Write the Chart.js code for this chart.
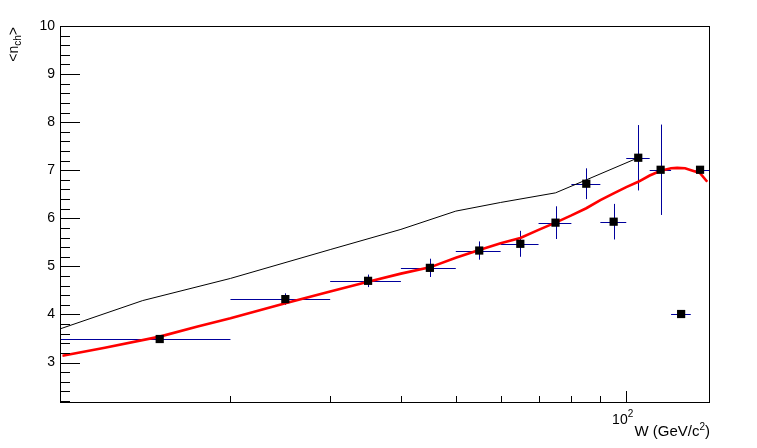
<!DOCTYPE html>
<html>
<head>
<meta charset="utf-8">
<script src="https://cdn.jsdelivr.net/npm/chart.js@4.4.1/dist/chart.umd.min.js"></script>
<style>
  html, body { margin: 0; padding: 0; background: #fff; }
  #wrap { width: 757px; height: 448px; }
</style>
</head>
<body>
<div id="wrap"><canvas id="nch" width="757" height="448"></canvas></div>
<script>
// measured <n_ch> vs W, bins of 10 GeV
const ptW    = [15, 25, 35, 45, 55, 65, 75, 85, 95, 105, 115, 125, 135];
const ptWLo  = [5, 5, 5, 5, 5, 5, 5, 5, 5, 5, 5, 5, 2.5];
const ptWHi  = [5, 5, 5, 5, 5, 5, 5, 5, 5, 5, 5, 5, 5];
const ptN    = [3.49, 4.32, 4.70, 4.97, 5.33, 5.47, 5.91, 6.72, 5.93, 7.26, 7.01, 4.01, 7.01];
const ptNErr = [0.06, 0.12, 0.13, 0.19, 0.19, 0.27, 0.34, 0.32, 0.37, 0.68, 0.94, 0, 0];

// thin black model line
const modelW = [10, 14, 20, 30, 40, 50, 60, 75, 85, 105];
const modelN = [3.70, 4.29, 4.75, 5.35, 5.77, 6.15, 6.33, 6.53, 6.80, 7.26];

// red fit curve
const fitW = [10.1, 12, 15, 17.5, 20, 25, 30, 35, 40, 45, 50, 55, 60, 65, 70,
              75, 80, 85, 90, 95, 100, 105, 110, 115, 120, 123, 127, 131, 135, 139];
const fitN = [3.14, 3.31, 3.54, 3.75, 3.92, 4.235, 4.48, 4.68, 4.85, 4.98, 5.18, 5.34, 5.48, 5.59, 5.76,
              5.91, 6.06, 6.21, 6.38, 6.52, 6.65, 6.76, 6.89, 6.99, 7.04, 7.05, 7.04, 6.99, 6.94, 6.76];

// axes
const yMajor = [3, 4, 5, 6, 7, 8, 9, 10];
const xMinor = [20, 30, 40, 50, 60, 70, 80, 90];
const xMajor = [100];
const xLabels = [['10', '2']];   // base, exponent

const FONT = "'Liberation Sans', Arial, sans-serif";
const ERR_COLOR = '#00009c';

function toXY(xs, ys) {
  return xs.map((v, i) => ({ x: v, y: ys[i] }));
}

// sub/superscript text helper: parts = [[text, size, dy], ...]
function drawParts(ctx, parts, x, y, align) {
  let total = 0;
  parts.forEach(p => { ctx.font = p[1] + 'px ' + FONT; total += ctx.measureText(p[0]).width; });
  let cx = align === 'right' ? x - total : x;
  parts.forEach(p => {
    ctx.font = p[1] + 'px ' + FONT;
    ctx.fillText(p[0], cx, y + p[2]);
    cx += ctx.measureText(p[0]).width;
  });
}

const rootFrame = {
  id: 'rootFrame',
  beforeDatasetsDraw(chart) {
    const { ctx, chartArea: a, scales: { x, y } } = chart;
    ctx.save();
    ctx.beginPath();
    ctx.rect(a.left, a.top, a.right - a.left, a.bottom - a.top);
    ctx.clip();
    ctx.strokeStyle = ERR_COLOR;
    ctx.lineWidth = 1;
    ctx.beginPath();
    for (let i = 0; i < ptW.length; i++) {
      const px = Math.round(x.getPixelForValue(ptW[i])) + 0.5;
      const py = Math.round(y.getPixelForValue(ptN[i])) + 0.5;
      ctx.moveTo(x.getPixelForValue(ptW[i] - ptWLo[i]), py);
      ctx.lineTo(x.getPixelForValue(ptW[i] + ptWHi[i]), py);
      if (ptNErr[i] > 0) {
        ctx.moveTo(px, y.getPixelForValue(ptN[i] - ptNErr[i]));
        ctx.lineTo(px, y.getPixelForValue(ptN[i] + ptNErr[i]));
      }
    }
    ctx.stroke();
    ctx.restore();
  },
  afterDraw(chart) {
    const { ctx, chartArea: a, scales: { x, y } } = chart;
    ctx.save();
    ctx.strokeStyle = '#000';
    ctx.lineWidth = 1;
    ctx.strokeRect(a.left + 0.5, a.top + 0.5, a.right - a.left, a.bottom - a.top);

    // ticks inside the frame, ROOT style
    ctx.beginPath();
    for (let k = 0; k <= 39; k++) {
      const v = 2.2 + k * 0.2;
      if (v < y.min || v > y.max + 1e-6) continue;
      const py = Math.round(y.getPixelForValue(v)) + 0.5;
      const major = Math.abs(v - Math.round(v)) < 1e-6;
      ctx.moveTo(a.left, py);
      ctx.lineTo(a.left + (major ? 20 : 10), py);
    }
    xMinor.forEach(v => {
      const px = Math.round(x.getPixelForValue(v)) + 0.5;
      ctx.moveTo(px, a.bottom);
      ctx.lineTo(px, a.bottom - 6);
    });
    xMajor.forEach(v => {
      const px = Math.round(x.getPixelForValue(v)) + 0.5;
      ctx.moveTo(px, a.bottom);
      ctx.lineTo(px, a.bottom - 11);
    });
    ctx.stroke();

    ctx.fillStyle = '#000';
    ctx.textBaseline = 'alphabetic';
    ctx.textAlign = 'left';

    // log-axis labels as base with raised exponent
    xMajor.forEach((v, i) => {
      const px = x.getPixelForValue(v);
      drawParts(ctx, [[xLabels[i][0], 14, 0], [xLabels[i][1], 10, -7]], px + 7, a.bottom + 22, 'right');
    });

    // axis titles
    drawParts(ctx, [['W (GeV/c', 15, 0], ['2', 10, -6], [')', 15, 0]], a.right + 1, 436, 'right');

    ctx.translate(18, a.top + 1);
    ctx.rotate(-Math.PI / 2);
    drawParts(ctx, [['<n', 14, 0], ['ch', 10, 3], ['>', 14, 0]], 0, 0, 'right');
    ctx.restore();
  }
};

new Chart(document.getElementById('nch'), {
  type: 'scatter',
  data: {
    datasets: [
      {
        label: 'data',
        data: toXY(ptW, ptN),
        pointStyle: 'rect',
        pointRadius: 5.8,
        backgroundColor: '#000',
        borderWidth: 0,
        order: 0
      },
      {
        label: 'fit',
        data: toXY(fitW, fitN),
        showLine: true,
        pointRadius: 0,
        borderColor: '#ff0000',
        borderWidth: 2.6,
        tension: 0,
        order: 1
      },
      {
        label: 'model',
        data: toXY(modelW, modelN),
        showLine: true,
        pointRadius: 0,
        borderColor: '#000',
        borderWidth: 1,
        tension: 0,
        order: 2
      }
    ]
  },
  options: {
    responsive: false,
    animation: false,
    events: [],
    layout: { padding: { top: 26, right: 48, left: 0, bottom: 0 } },
    plugins: { legend: { display: false }, tooltip: { enabled: false } },
    scales: {
      x: {
        type: 'logarithmic',
        min: 10,
        max: 140,
        grid: { display: false, drawTicks: false },
        border: { display: false },
        afterBuildTicks: s => { s.ticks = xMajor.map(v => ({ value: v })); },
        afterFit: s => { s.height = 46; },
        ticks: { display: false }
      },
      y: {
        type: 'linear',
        min: 2.18,
        max: 10,
        grid: { display: false, drawTicks: false },
        border: { display: false },
        afterBuildTicks: s => { s.ticks = yMajor.map(v => ({ value: v })); },
        afterFit: s => { s.width = 60; },
        ticks: {
          autoSkip: false,
          padding: 5,
          color: '#000',
          font: { family: FONT, size: 14 },
          callback: v => String(v)
        }
      }
    }
  },
  plugins: [rootFrame]
});
</script>
</body>
</html>
